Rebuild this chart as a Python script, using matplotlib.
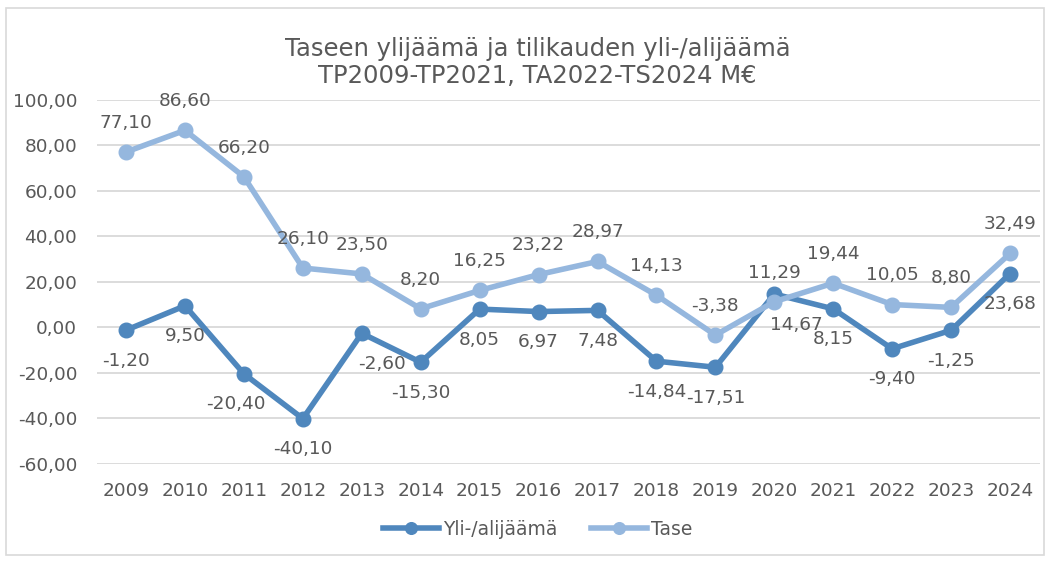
import numpy as np
import matplotlib
matplotlib.use('Agg')
import matplotlib.pyplot as plt
from matplotlib.patches import Rectangle

years = [str(y) for y in range(2009, 2025)]
yli = [-1.20, 9.50, -20.40, -40.10, -2.60, -15.30, 8.05, 6.97, 7.48,
       -14.84, -17.51, 14.67, 8.15, -9.40, -1.25, 23.68]
tase = [77.10, 86.60, 66.20, 26.10, 23.50, 8.20, 16.25, 23.22, 28.97,
        14.13, -3.38, 11.29, 19.44, 10.05, 8.80, 32.49]

dark = '#4F87BD'
light = '#95B7DE'
txt = '#595959'

plt.rcParams['font.family'] = ['DejaVu Sans']

fig = plt.figure(figsize=(10.5, 5.61), dpi=100)
ax = fig.add_axes([0.092, 0.173, 0.898, 0.649])

x = np.arange(len(years))
ax.plot(x, yli, color=dark, lw=4, marker='o', ms=10.5, label='Yli-/alijäämä', zorder=3)
ax.plot(x, tase, color=light, lw=4, marker='o', ms=10.5, label='Tase', zorder=3)

def fmt(v):
    return ('%.2f' % v).replace('.', ',')

# small nudges where labels were moved in the original
nudge = {4: 20, 2: -8, 11: 22}
for i, v in enumerate(yli):
    ax.annotate(fmt(v), (x[i], v), xytext=(nudge.get(i, 0) * 0.72, -22),
                textcoords='offset points', ha='center', va='center',
                fontsize=13.3, color=txt)
for i, v in enumerate(tase):
    ax.annotate(fmt(v), (x[i], v), xytext=(0, 21), textcoords='offset points',
                ha='center', va='center', fontsize=13.3, color=txt)

ax.set_xlim(-0.5, len(years) - 0.5)
ax.set_ylim(-60, 100)
ax.set_yticks(np.arange(-60, 101, 20))
ax.set_yticklabels([fmt(v) for v in np.arange(-60, 101, 20)])
ax.set_xticks(x)
ax.set_xticklabels(years)
ax.tick_params(length=0, labelsize=13.3, labelcolor=txt)
ax.tick_params(axis='x', pad=13)
ax.tick_params(axis='y', pad=14)
ax.grid(axis='y', color='#D9D9D9', lw=1.3)
ax.set_axisbelow(True)
for s in ax.spines.values():
    s.set_visible(False)

fig.text(0.512, 0.889,
         'Taseen ylijäämä ja tilikauden yli-/alijäämä\nTP2009-TP2021, TA2022-TS2024 M€',
         ha='center', va='center', fontsize=17.5, color=txt, linespacing=1.13)

fig.legend(loc='center', bbox_to_anchor=(0.512, 0.057), ncol=2, frameon=False,
           fontsize=13.5, labelcolor=txt, handlelength=3.0, columnspacing=1.8,
           handletextpad=0.2, markerscale=0.8)

fig.patches.append(Rectangle((0.006, 0.01), 0.988, 0.975, transform=fig.transFigure,
                             fill=False, edgecolor='#D9D9D9', lw=1.2))

fig.savefig('out.png', dpi=100)
